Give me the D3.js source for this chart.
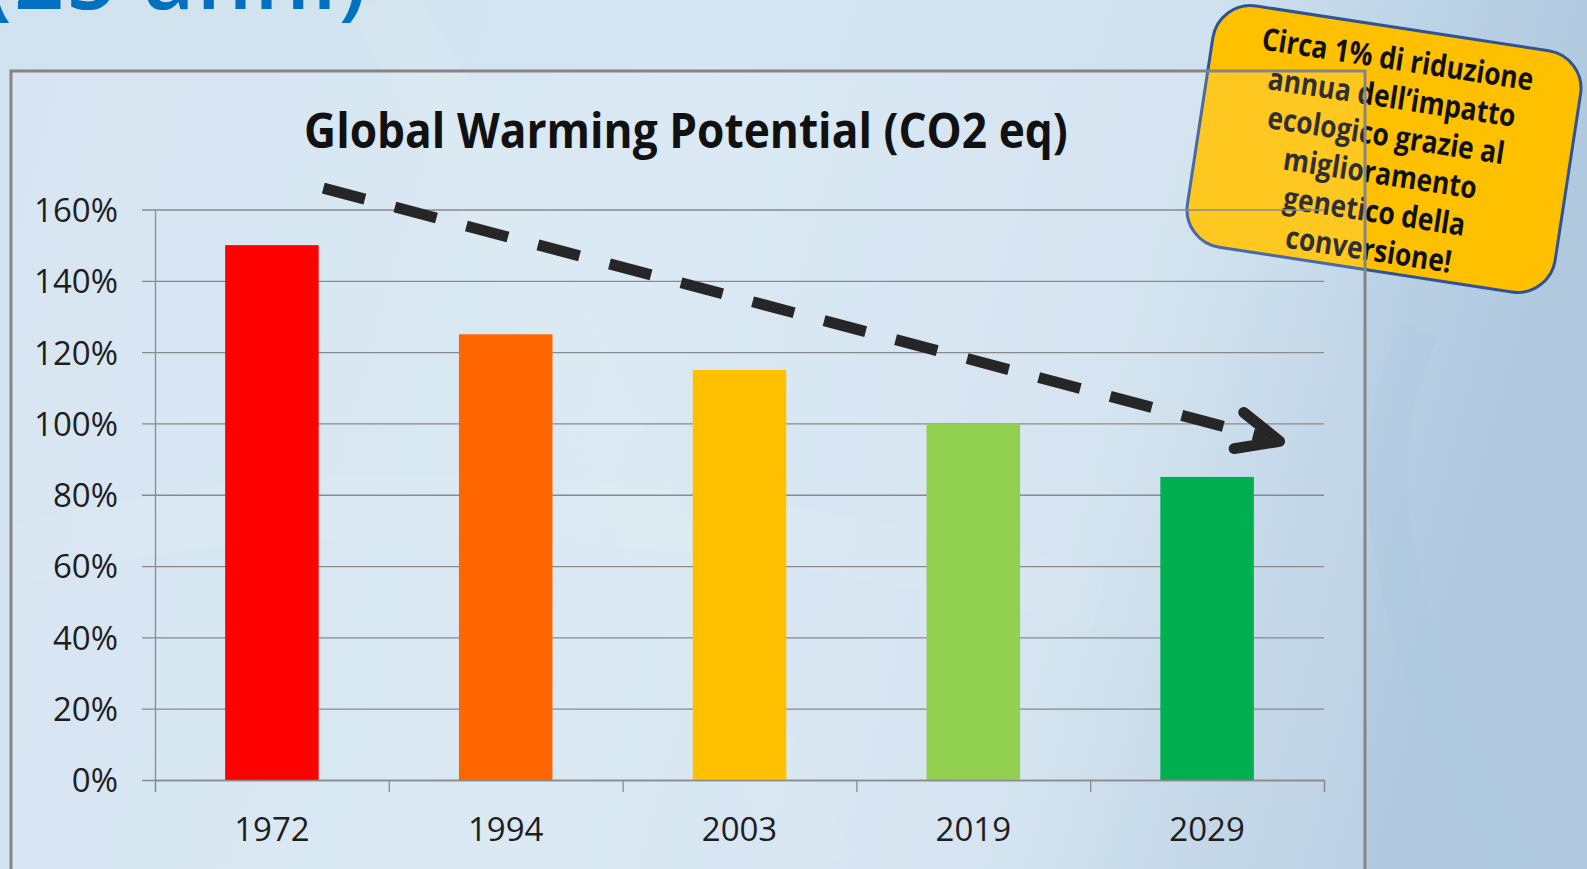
<!DOCTYPE html>
<html>
<head>
<meta charset="utf-8">
<script src="https://cdn.jsdelivr.net/npm/d3@7/dist/d3.min.js"></script>
<style>
  html, body { margin: 0; padding: 0; overflow: hidden; background: #d4e5f1; }
  svg { display: block; }
</style>
</head>
<body>
<svg id="chart" width="1587" height="869"></svg>
<script>
// ---------- data ----------
const categories = ["1972", "1994", "2003", "2019", "2029"];
const values = [150, 125, 115, 100, 85];
const barColors = ["#FF0000", "#FF6600", "#FFC000", "#92D050", "#00B050"];
const yTicks = [0, 20, 40, 60, 80, 100, 120, 140, 160];
const chartTitle = "Global Warming Potential (CO2 eq)";
const slideHeading = "(25 anni)";
const calloutLines = [
  "Circa 1% di riduzione",
  "annua dell\u2019impatto",
  "ecologico grazie al",
  "miglioramento",
  "genetico della",
  "conversione!"
];
// trend arrow in data terms: position in category units, value in %
const trendFrom = { pos: 0.72, value: 166 };
const trendTo = { pos: 4.81, value: 95 };

// ---------- layout ----------
const W = 1587, H = 869;
const plot = { left: 155, right: 1324, top: 209.5, bottom: 780 };
const svg = d3.select("#chart");
const defs = svg.append("defs");

// background gradient
const bg = defs.append("linearGradient").attr("id", "bgGrad")
  .attr("x1", 0).attr("y1", 0).attr("x2", 1).attr("y2", 0.15);
bg.append("stop").attr("offset", "0%").attr("stop-color", "#d0e2ef");
bg.append("stop").attr("offset", "45%").attr("stop-color", "#d5e6f2");
bg.append("stop").attr("offset", "75%").attr("stop-color", "#cfe1ee");
bg.append("stop").attr("offset", "88%").attr("stop-color", "#bdd3e6");
bg.append("stop").attr("offset", "100%").attr("stop-color", "#b0c9df");
svg.append("rect").attr("width", W).attr("height", H).attr("fill", "url(#bgGrad)");

// faint decorative swooshes
const sw = svg.append("g").attr("fill", "none");
sw.append("path").attr("d", "M380,0 C520,220 640,520 820,869")
  .attr("stroke", "#ffffff").attr("stroke-opacity", 0.06).attr("stroke-width", 70);
sw.append("path").attr("d", "M0,560 C300,470 700,500 1100,600")
  .attr("stroke", "#ffffff").attr("stroke-opacity", 0.05).attr("stroke-width", 60);
sw.append("path").attr("d", "M1420,330 C1340,480 1420,700 1520,869")
  .attr("stroke", "#9fbcd6").attr("stroke-opacity", 0.08).attr("stroke-width", 40);

// partially visible slide heading
svg.append("text").attr("x", -16).attr("y", 9)
  .attr("font-family", "Open Sans").attr("font-size", 88).attr("font-weight", 600)
  .attr("letter-spacing", 2)
  .attr("fill", "#0070C0").text(slideHeading);

// ---------- callout (beneath chart) ----------
const co = svg.append("g").attr("transform", "translate(1384,149) rotate(8.7)");
co.append("rect").attr("x", -186).attr("y", -122).attr("width", 372).attr("height", 244)
  .attr("rx", 38).attr("ry", 38)
  .attr("fill", "#FFC000").attr("stroke", "#2F5496").attr("stroke-width", 3);
const coText = co.append("g");
coText.selectAll("text").data(calloutLines).join("text")
  .attr("x", 0).attr("y", (d, i) => -80 + i * 38.5)
  .attr("text-anchor", "middle")
  .attr("font-family", "Open Sans").attr("font-weight", 700).attr("font-size", 31)
  .attr("fill", "#111").text(d => d);
{
  const w0 = coText.select("text").node().getComputedTextLength();
  const sx = 274 / w0;
  coText.attr("transform", `scale(${sx},1)`);
}

// ---------- chart frame ----------
svg.append("rect").attr("x", 11).attr("y", 71).attr("width", 1354).attr("height", 900)
  .attr("fill", "#ffffff").attr("fill-opacity", 0.13)
  .attr("stroke", "#858585").attr("stroke-width", 3);

// scales
const x = d3.scaleBand().domain(categories).range([plot.left, plot.right])
  .paddingInner(0.6).paddingOuter(0.3);
const xPos = d3.scaleLinear().domain([0, categories.length]).range([plot.left, plot.right]);
const y = d3.scaleLinear().domain([0, 160]).range([plot.bottom, plot.top]);

// gridlines (with outward tick stubs)
const grid = svg.append("g").attr("transform", `translate(${plot.right},0)`)
  .call(d3.axisLeft(y).tickValues(yTicks).tickSize(plot.right - plot.left + 13).tickFormat(""));
grid.select(".domain").remove();
grid.selectAll("line").attr("stroke", "#8a8a8a").attr("stroke-width", 1.3);

// y axis line + labels
const yAx = svg.append("g").attr("transform", `translate(${plot.left},0)`)
  .call(d3.axisLeft(y).tickValues(yTicks).tickSize(0).tickPadding(37).tickFormat(d => d + "%"));
yAx.select(".domain").attr("stroke", "#8a8a8a").attr("stroke-width", 1.3);
yAx.selectAll("text").attr("font-family", "Open Sans").attr("font-size", 33)
  .attr("fill", "#1e1e1e").attr("dy", "0.36em");

// bars
svg.append("g").selectAll("rect").data(values).join("rect")
  .attr("x", (d, i) => x(categories[i]))
  .attr("y", d => y(d))
  .attr("width", x.bandwidth())
  .attr("height", d => y(0) - y(d))
  .attr("fill", (d, i) => barColors[i]);

// x axis: line + boundary ticks
const xTickAx = svg.append("g").attr("transform", `translate(0,${plot.bottom})`)
  .call(d3.axisBottom(xPos).tickValues(d3.range(categories.length + 1)).tickSize(12).tickFormat(""));
xTickAx.select(".domain").attr("stroke", "#8a8a8a").attr("stroke-width", 1.3);
xTickAx.selectAll("line").attr("stroke", "#8a8a8a").attr("stroke-width", 1.3);

// x labels
const xLab = svg.append("g").attr("transform", `translate(0,${plot.bottom})`)
  .call(d3.axisBottom(x).tickSize(0).tickPadding(61));
xLab.select(".domain").remove();
xLab.selectAll("text").attr("font-family", "Open Sans").attr("font-size", 33)
  .attr("fill", "#1e1e1e").attr("dy", 0);

// title
const title = svg.append("text").attr("x", 686).attr("y", 148)
  .attr("text-anchor", "middle")
  .attr("font-family", "Open Sans").attr("font-weight", 700).attr("font-size", 48)
  .attr("fill", "#111").text(chartTitle);
{
  const tw = title.node().getComputedTextLength();
  const sx = 764 / tw;
  title.attr("transform", `translate(686,0) scale(${sx},1) translate(-686,0)`);
}

// trend arrow
const p0 = [xPos(trendFrom.pos), y(trendFrom.value)];
const p1 = [xPos(trendTo.pos), y(trendTo.value)];
const arrow = svg.append("g").attr("stroke", "#262626").attr("fill", "none");
const ang = Math.atan2(p1[1] - p0[1], p1[0] - p0[0]);
const shaftEnd = [p1[0] - 14 * Math.cos(ang), p1[1] - 14 * Math.sin(ang)];
arrow.append("path").attr("d", d3.line()([p0, shaftEnd]))
  .attr("stroke-width", 11).attr("stroke-dasharray", "43 31");
const headLen = 46, headAng = 24 * Math.PI / 180;
const armA = [p1[0] - headLen * Math.cos(ang - headAng), p1[1] - headLen * Math.sin(ang - headAng)];
const armB = [p1[0] - headLen * Math.cos(ang + headAng), p1[1] - headLen * Math.sin(ang + headAng)];
arrow.append("path").attr("d", d3.line()([armA, p1, armB]))
  .attr("stroke-width", 11).attr("stroke-linecap", "round").attr("stroke-linejoin", "round");
</script>
</body>
</html>
